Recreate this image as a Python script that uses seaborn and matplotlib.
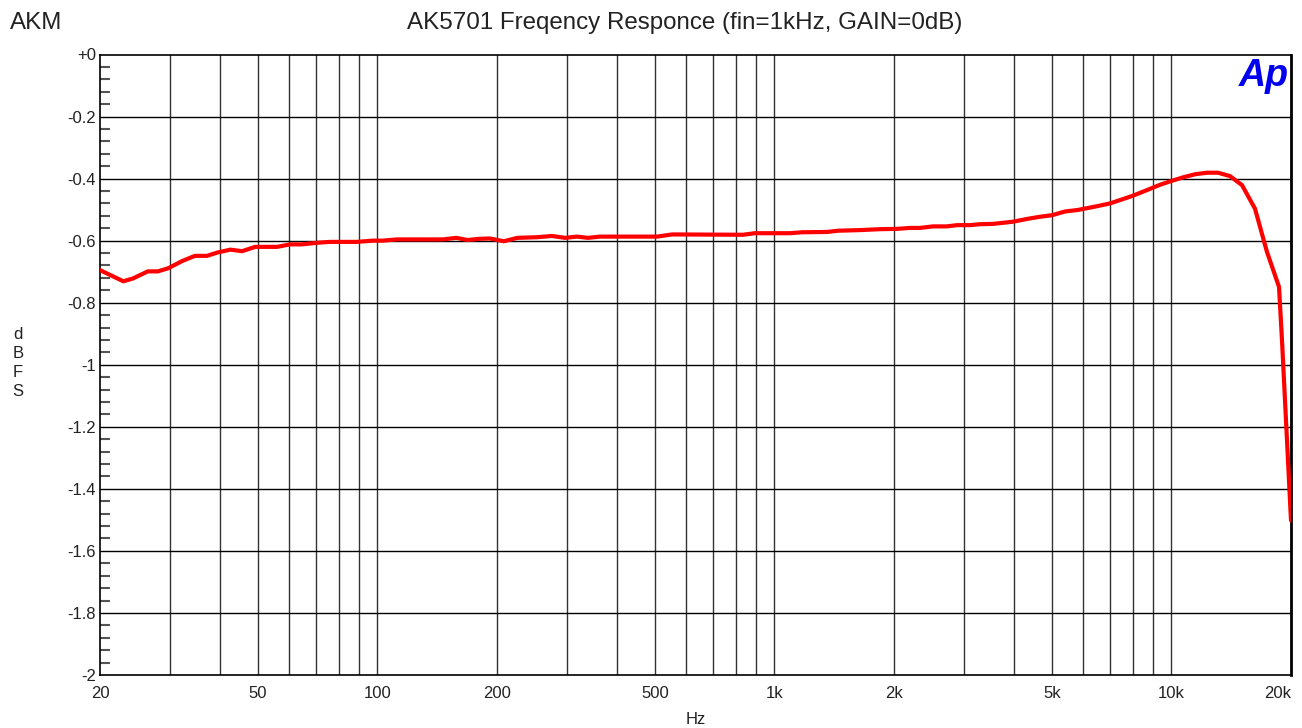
import numpy as np
import pandas as pd
import matplotlib
matplotlib.use("Agg")
import matplotlib.pyplot as plt
import matplotlib.ticker as mticker
import seaborn as sns

freq_hz = [20, 22.9, 24.2, 26.4, 28.0, 29.7, 32.3, 34.7, 37.2, 39.6, 42.6, 45.6,
           49.2, 55.9, 60.2, 64.5, 70.3, 75.8, 88.6, 97.3, 103, 112, 146, 158,
           168.5, 181, 192, 208, 225, 252, 275, 297, 318, 339, 363, 506, 552,
           833, 893, 1094, 1173, 1356, 1446, 1642, 1844, 2035, 2195, 2326, 2508,
           2720, 2882, 3108, 3294, 3551, 3988, 4325, 4664, 5000, 5394, 5816,
           6493, 7000, 7550, 8000, 8676, 9354, 10028, 10692, 11464, 12288,
           13100, 14040, 15054, 16232, 17396, 18656, 18980, 20000]
level_dbfs = [-0.695, -0.731, -0.722, -0.699, -0.699, -0.689, -0.665, -0.649,
              -0.649, -0.638, -0.629, -0.634, -0.620, -0.620, -0.612, -0.612,
              -0.607, -0.604, -0.604, -0.600, -0.600, -0.596, -0.596, -0.591,
              -0.598, -0.594, -0.593, -0.602, -0.591, -0.589, -0.585, -0.591,
              -0.587, -0.591, -0.587, -0.587, -0.580, -0.581, -0.576, -0.576,
              -0.573, -0.572, -0.568, -0.566, -0.563, -0.562, -0.559, -0.559,
              -0.554, -0.554, -0.550, -0.550, -0.547, -0.546, -0.539, -0.530,
              -0.523, -0.518, -0.506, -0.501, -0.489, -0.480, -0.466, -0.455,
              -0.437, -0.420, -0.407, -0.396, -0.386, -0.381, -0.381, -0.392,
              -0.421, -0.497, -0.636, -0.749, -0.920, -1.502]

x_ticks = [20, 50, 100, 200, 500, 1000, 2000, 5000, 10000, 20000]
x_tick_labels = ["20", "50", "100", "200", "500", "1k", "2k", "5k", "10k", "20k"]
y_ticks = [0, -0.2, -0.4, -0.6, -0.8, -1, -1.2, -1.4, -1.6, -1.8, -2]
y_tick_labels = ["+0", "-0.2", "-0.4", "-0.6", "-0.8", "-1", "-1.2", "-1.4",
                 "-1.6", "-1.8", "-2"]

title = "AK5701 Freqency Responce (fin=1kHz, GAIN=0dB)"

sns.set_theme(style="white")
plt.rcParams["font.family"] = ["Liberation Sans", "DejaVu Sans"]

df = pd.DataFrame({"Hz": freq_hz, "dBFS": level_dbfs})

fig = plt.figure(figsize=(13.02, 7.28), dpi=100)
ax = fig.add_axes([100 / 1302, 1 - 675 / 728, 1191 / 1302, (675 - 54.5) / 728])

sns.lineplot(data=df, x="Hz", y="dBFS", ax=ax, color="#ff0000", linewidth=3,
             zorder=5)

ax.set_xscale("log")
ax.set_xlim(20, 20000)
ax.set_ylim(-2, 0)

# grid lines
vgrid = []
for dec in [10, 100, 1000, 10000]:
    for m in range(1, 10):
        v = m * dec
        if 20 < v < 20000:
            vgrid.append(v)
for v in vgrid:
    ax.axvline(v, color="#333333", linewidth=1.0, zorder=1)
for yv in y_ticks[1:-1]:
    ax.axhline(yv, color="#000000", linewidth=1.0, zorder=1)

ax.xaxis.set_major_locator(mticker.FixedLocator(x_ticks))
ax.xaxis.set_minor_locator(mticker.NullLocator())
ax.set_xticks(x_ticks)
ax.set_xticklabels(x_tick_labels)
ax.set_yticks(y_ticks)
ax.set_yticklabels(y_tick_labels)
ax.yaxis.set_minor_locator(mticker.MultipleLocator(0.04))

ax.tick_params(axis="x", which="both", length=0, pad=8, labelsize=12,
               colors="#222222")
ax.tick_params(axis="y", which="major", length=0, pad=3, labelsize=12,
               colors="#222222")
ax.tick_params(axis="y", which="minor", direction="in", length=7, width=1.5,
               color="#555555", left=True)
xlabels = ax.get_xticklabels()
xlabels[-1].set_horizontalalignment("right")

for s in ax.spines.values():
    s.set_color("black")
    s.set_linewidth(1.2)
    s.set_visible(True)
ax.spines["right"].set_linewidth(2)

ax.set_xlabel("Hz", fontsize=12, color="#222222", labelpad=8)
ax.set_ylabel("d\nB\nF\nS", fontsize=12, rotation=0, color="#222222",
              linespacing=1.35, va="center", ha="center")
ax.yaxis.set_label_coords((18 - 100) / 1191, (675 - 363) / 620.5)

fig.text(685 / 1302, 1 - 23 / 728, title, ha="center", va="center",
         fontsize=17.4, color="#222222")
fig.text(10 / 1302, 1 - 23 / 728, "AKM", ha="left", va="center",
         fontsize=17.4, color="#222222")
ax.text(0.9985, 0.995, "Ap", transform=ax.transAxes, ha="right", va="top",
        fontsize=27, fontweight="bold", fontstyle="italic", color="#0000ee",
        zorder=6)

fig.savefig("out.png", dpi=100, facecolor="white")
